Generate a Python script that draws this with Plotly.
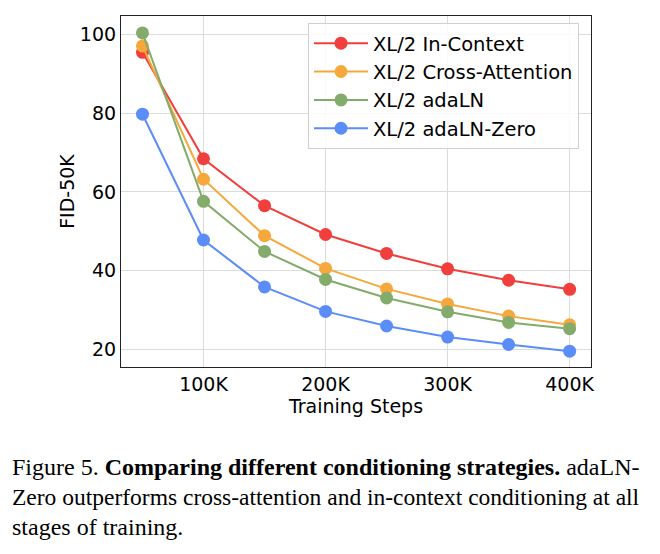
import plotly.graph_objects as go

steps = [50000, 100000, 150000, 200000, 250000, 300000, 350000, 400000]
in_context = [95.4, 68.4, 56.5, 49.2, 44.4, 40.5, 37.6, 35.3]
cross_attention = [97.0, 63.2, 48.9, 40.6, 35.4, 31.6, 28.5, 26.3]
adaln = [100.3, 57.6, 44.9, 37.8, 33.1, 29.6, 26.9, 25.3]
adaln_zero = [79.7, 47.8, 35.9, 29.7, 26.0, 23.2, 21.3, 19.6]

series_names = ["XL/2 In-Context", "XL/2 Cross-Attention", "XL/2 adaLN", "XL/2 adaLN-Zero"]
series_values = [in_context, cross_attention, adaln, adaln_zero]
colors = ["#F03F3C", "#F6A83D", "#83AB6B", "#5B8DF9"]

x_tickvals = [100000, 200000, 300000, 400000]
x_ticktext = ["100K", "200K", "300K", "400K"]
y_tickvals = [20, 40, 60, 80, 100]

caption_lines = [
    "Figure 5. <b>Comparing different conditioning strategies.</b> adaLN-",
    "Zero outperforms cross-attention and in-context conditioning at all",
    "stages of training.",
]
caption_sizes = [24, 23.5, 24]

# page body has an 8px margin: figure coords = screen coords - 8
OFF = 8
W, H = 660, 554
L, R, T, B = 121 - OFF, 69 + OFF, 16 - OFF, 187 + OFF
pw, ph = W - L - R, H - T - B

fig = go.Figure()
for name, vals, c in zip(series_names, series_values, colors):
    fig.add_trace(go.Scatter(
        x=steps, y=vals, name=name, mode="lines+markers",
        line=dict(color=c, width=2),
        marker=dict(color=c, size=13),
        legendgroup=name,
    ))

font_sans = "DejaVu Sans"
fig.update_layout(
    width=W, height=H,
    margin=dict(l=L, r=R, t=T, b=B),
    paper_bgcolor="white", plot_bgcolor="white",
    font=dict(family=font_sans, size=19, color="#000000"),
    showlegend=True,
    legend=dict(
        x=(308 - OFF - L) / pw, y=(H - B - (23 - OFF)) / ph, xanchor="left", yanchor="top",
        bgcolor="rgba(255,255,255,0.85)", bordercolor="#d0d0d0", borderwidth=1,
        font=dict(family=font_sans, size=19.5),
        itemwidth=54, tracegroupgap=0,
    ),
    xaxis=dict(
        range=[32400, 417500], tickvals=x_tickvals, ticktext=x_ticktext,
        showgrid=True, gridcolor="#dcdcdc", gridwidth=1,
        showline=True, linecolor="#222222", linewidth=1.2, mirror=True,
        ticks="", zeroline=False,
        title=dict(text="Training Steps", font=dict(size=19), standoff=4),
    ),
    yaxis=dict(
        range=[15.6, 104.6], tickvals=y_tickvals,
        showgrid=True, gridcolor="#dcdcdc", gridwidth=1,
        showline=True, linecolor="#222222", linewidth=1.2, mirror=True,
        ticks="", zeroline=False,
        title=dict(text="FID-50K", font=dict(size=19), standoff=0),
    ),
)

for i, line in enumerate(caption_lines):
    ypix = 467 - OFF + 30 * i
    fig.add_annotation(
        text=line, xref="paper", yref="paper",
        x=(10 - OFF - L) / pw, y=(H - B - ypix) / ph,
        xanchor="left", yanchor="middle", showarrow=False,
        font=dict(family="Liberation Serif", size=caption_sizes[i], color="#000000"),
    )

fig.write_html("out.html")
